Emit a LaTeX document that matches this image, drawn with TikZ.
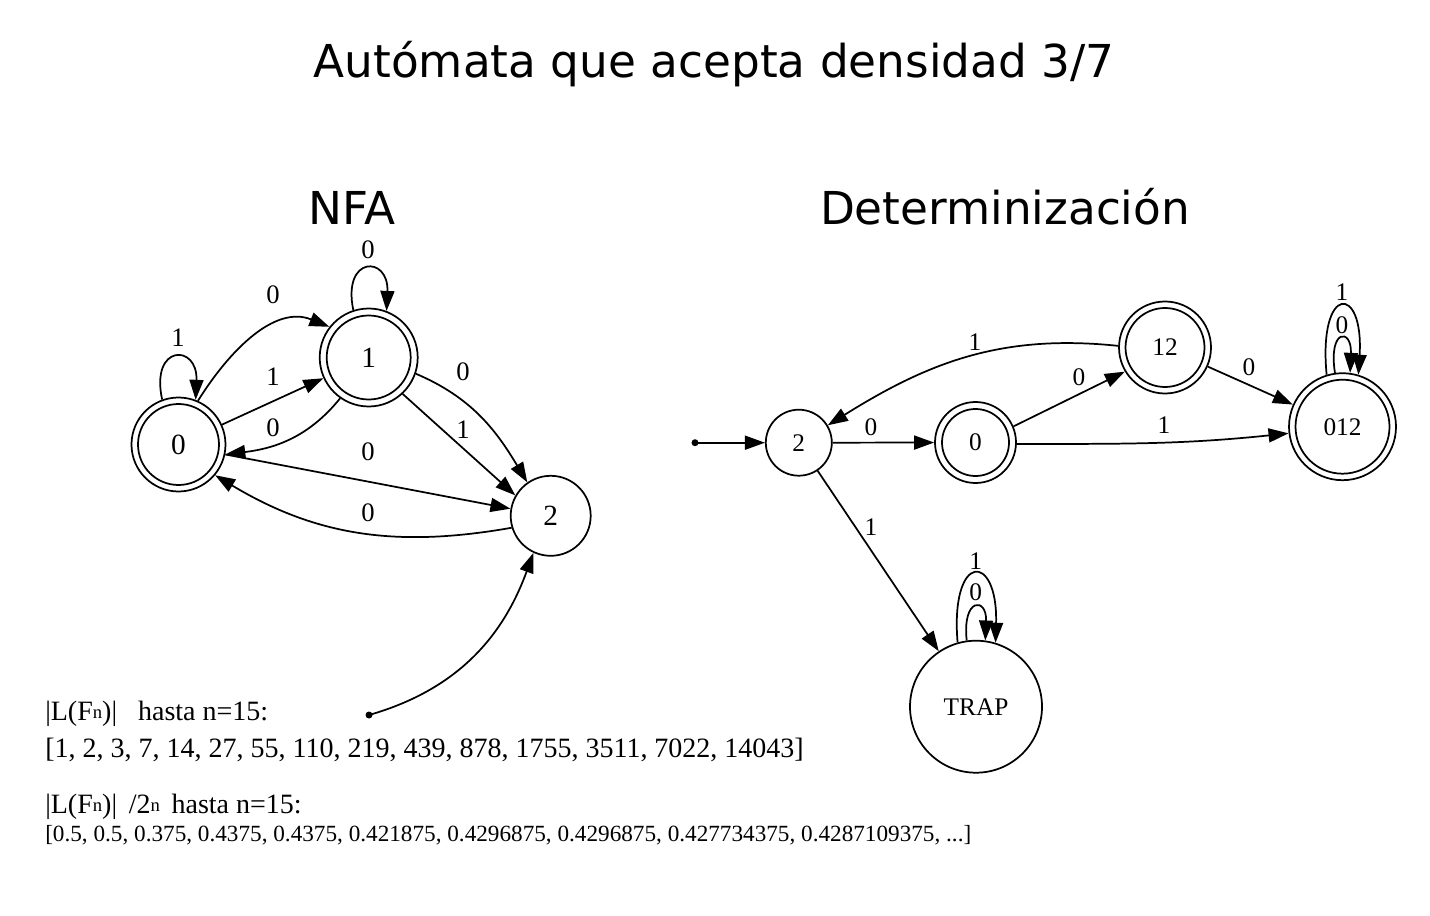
\documentclass[tikz,border=0pt]{standalone}
\usepackage{fontspec}
\setmainfont{Liberation Serif}
\newfontfamily\titlefont{DejaVu Sans}
\usetikzlibrary{arrows.meta}
\newcommand{\sn}{\raisebox{1.5pt}{\fontsize{14}{14}\selectfont n}}
\begin{document}
\begin{tikzpicture}[x=0.75pt,y=-0.75pt,
  lw/.style={line width=1.3pt},
  st/.style={circle,draw,line width=1.3pt,inner sep=0pt,font=\fontsize{22}{22}\selectfont},
  dst/.style={circle,draw,line width=1.3pt,inner sep=0pt,font=\fontsize{19}{19}\selectfont},
  arr/.style={line width=1.3pt,-{Triangle[length=15pt,width=10.5pt]}},
  lbl/.style={inner sep=0pt,font=\fontsize{20}{20}\selectfont},
  dlbl/.style={inner sep=0pt,font=\fontsize{19}{19}\selectfont},
  ttl/.style={inner sep=0pt,anchor=base,font=\titlefont\fontsize{34}{34}\selectfont},
  txt/.style={inner sep=0pt,anchor=base west,font=\fontsize{21}{21}\selectfont},
  stxt/.style={inner sep=0pt,anchor=base west,font=\fontsize{17.4}{17.4}\selectfont}]
\useasboundingbox (0,0) rectangle (1430,916);
\fill[white] (0,0) rectangle (1430,916);

% titles
\node[ttl] (title) at (714,78) {Autómata que acepta densidad 3/7};
\node[ttl] (tnfa) at (352,225) {NFA};
\node[ttl] (tdfa) at (1005,225) {Determinización};

% ---------- NFA ----------
\node[st,minimum size=94*0.75pt] (q0) at (178.5,444.5) {0};
\draw[lw] (q0.center) circle[radius=40.5];
\node[st,minimum size=98*0.75pt] (q1) at (368.7,357.5) {1};
\draw[lw] (q1.center) circle[radius=42];
\node[st,minimum size=80*0.75pt] (q2) at (550.7,515.8) {2};
\coordinate (ni) at (369,715);
\fill (ni) circle[radius=3.5];

\draw[arr] (q0.110) .. controls (150,343.7) and (198,343.7) .. (q0.69);
\draw[arr] (q1.108) .. controls (342,255.3) and (389,255.3) .. (q1.69);
\draw[arr] (q0.66) to[out=58,in=158] (q1.142);
\draw[arr] (q0) -- (q1);
\draw[arr] (q1.235) to[out=231,in=7] (q0.-12);
\draw[arr] (q0.-12) -- (q2.170);
\draw[arr] (q2.197) to[out=190,in=-31] (q0.-40);
\draw[arr] (q1.-19) to[out=-23,in=121] (q2.125);
\draw[arr] (q1.-47) -- (q2.150);
\draw[arr] (ni) to[out=16,in=250] (q2.245);

\node[lbl] (a1) at (178,338) {1};
\node[lbl] (a2) at (368,250) {0};
\node[lbl] (a3) at (273,295) {0};
\node[lbl] (a4) at (273,377) {1};
\node[lbl] (a5) at (273,428) {0};
\node[lbl] (a6) at (368,452) {0};
\node[lbl] (a7) at (368,513) {0};
\node[lbl] (a8) at (463,372) {0};
\node[lbl] (a9) at (463,430) {1};

% ---------- DFA ----------
\node[dst,minimum size=66*0.75pt] (d2) at (798.8,442.7) {2};
\node[dst,minimum size=81*0.75pt] (d0) at (975.5,442.5) {0};
\draw[lw] (d0.center) circle[radius=33.5];
\node[dst,minimum size=92*0.75pt] (d12) at (1165,347.5) {12};
\draw[lw] (d12.center) circle[radius=39.5];
\node[dst,minimum size=107*0.75pt] (d012) at (1342.5,426.7) {012};
\draw[lw] (d012.center) circle[radius=47];
\node[dst,minimum size=132*0.75pt] (trap) at (976,706.7) {TRAP};
\coordinate (di) at (695,442.7);
\fill (di) circle[radius=3.5];

\draw[arr] (di) -- (d2);
\draw[arr] (d2) -- (d0);
\draw[arr] (d0.23) -- (d12.211);
\draw[arr] (d0.-2) to[out=0,in=186] (d012.187);
\draw[arr] (d12.178) to[out=174,in=32] (d2.31);
\draw[arr] (d12) -- (d012);
\draw[arr] (d2) -- (trap);
\draw[arr] (d012.107) .. controls (1318,283.7) and (1364,283.7) .. (d012.73);
\draw[arr] (d012.98) .. controls (1328,328) and (1352,328) .. (d012.82);
\draw[arr] (trap.106.5) .. controls (950,551.5) and (998,551.5) .. (trap.73.7);
\draw[arr] (trap.98.7) .. controls (962,597) and (987,597) .. (trap.82);

\node[dlbl] (b1) at (871,426.7) {0};
\node[dlbl] (b2) at (1079,377) {0};
\node[dlbl] (b3) at (1164,425) {1};
\node[dlbl] (b4) at (975,341.7) {1};
\node[dlbl] (b5) at (1249,366.7) {0};
\node[dlbl] (b6) at (1342,291.7) {1};
\node[dlbl] (b7) at (1342,325) {0};
\node[dlbl] (b8) at (871,526.7) {1};
\node[dlbl] (b9) at (975.7,560.7) {1};
\node[dlbl] (b10) at (975.7,591.7) {0};

% ---------- text ----------
\node[txt] (t1) at (45,720) {|L(F\sn)|\ \ \ hasta n=15:};
\node[txt] (t2) at (45,757) {[1, 2, 3, 7, 14, 27, 55, 110, 219, 439, 878, 1755, 3511, 7022, 14043]};
\node[txt] (t3) at (45,813) {|L(F\sn)|\ \,/2\sn\ \,hasta n=15:};
\node[stxt] (t4) at (45,841) {[0.5, 0.5, 0.375, 0.4375, 0.4375, 0.421875, 0.4296875, 0.4296875, 0.427734375, 0.4287109375, ...]};
\end{tikzpicture}
\end{document}
